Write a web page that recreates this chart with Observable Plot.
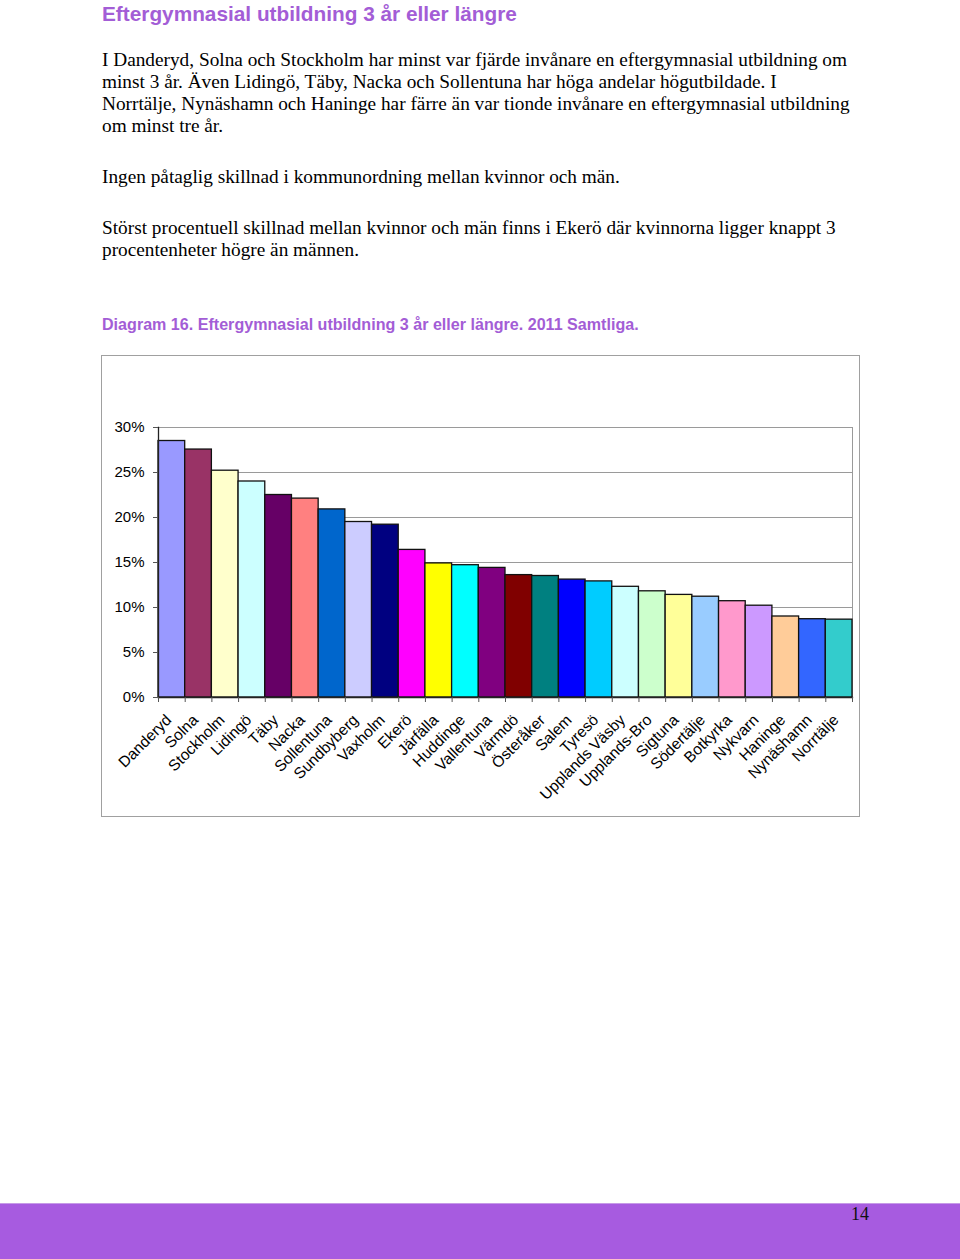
<!DOCTYPE html>
<html>
<head>
<meta charset="utf-8">
<script src="https://cdn.jsdelivr.net/npm/d3@7"></script>
<script src="https://cdn.jsdelivr.net/npm/@observablehq/plot@0.6"></script>
<style>
  html, body { margin: 0; padding: 0; background: #fff; }
  body { width: 960px; height: 1259px; position: relative; overflow: hidden; }
  .title { position: absolute; left: 102px; top: 2px; font-family: "Liberation Sans", Arial, sans-serif; font-weight: bold; font-size: 20.8px; color: #A35DD6; white-space: nowrap; }
  .para { position: absolute; left: 102px; font-family: "Liberation Serif", "Times New Roman", serif; font-size: 19.3px; line-height: 22px; color: #000; white-space: nowrap; }
  .caption { position: absolute; left: 102px; top: 315px; font-family: "Liberation Sans", Arial, sans-serif; font-weight: bold; font-size: 16.1px; color: #A35DD6; white-space: nowrap; }
  #chart { position: absolute; left: 101px; top: 355px; width: 757px; height: 460px; border: 1px solid #a0a0a0; }
  #chart svg { display: block; }
  .footer { position: absolute; left: 0; top: 1203px; width: 960px; height: 56px; background: #A75BE0; border-top: 1px solid #c69ae8; }
  .pagenum { position: absolute; left: 851px; top: 1204px; font-family: "Liberation Serif", "Times New Roman", serif; font-size: 18px; color: #111; }
</style>
</head>
<body>
<div class="title">Eftergymnasial utbildning 3 år eller längre</div>
<div class="para" style="top:49px">I Danderyd, Solna och Stockholm har minst var fjärde invånare en eftergymnasial utbildning om<br>minst 3 år. Även Lidingö, Täby, Nacka och Sollentuna har höga andelar högutbildade. I<br>Norrtälje, Nynäshamn och Haninge har färre än var tionde invånare en eftergymnasial utbildning<br>om minst tre år.</div>
<div class="para" style="top:166px">Ingen påtaglig skillnad i kommunordning mellan kvinnor och män.</div>
<div class="para" style="top:217px">Störst procentuell skillnad mellan kvinnor och män finns i Ekerö där kvinnorna ligger knappt 3<br>procentenheter högre än männen.</div>
<div class="caption">Diagram 16. Eftergymnasial utbildning 3 år eller längre. 2011 Samtliga.</div>
<div id="chart"></div>
<div class="footer"></div>
<div class="pagenum">14</div>
<script>
const kommuner = ["Danderyd","Solna","Stockholm","Lidingö","Täby","Nacka","Sollentuna","Sundbyberg","Vaxholm","Ekerö","Järfälla","Huddinge","Vallentuna","Värmdö","Österåker","Salem","Tyresö","Upplands Väsby","Upplands-Bro","Sigtuna","Södertälje","Botkyrka","Nykvarn","Haninge","Nynäshamn","Norrtälje"];
const andel = [0.285,0.2755,0.252,0.240,0.225,0.221,0.209,0.195,0.192,0.164,0.149,0.147,0.144,0.136,0.135,0.131,0.129,0.123,0.118,0.114,0.112,0.107,0.102,0.090,0.087,0.0865];
const farger = ["#9999FF","#993366","#FFFFCC","#CCFFFF","#660066","#FF8080","#0066CC","#CCCCFF","#000080","#FF00FF","#FFFF00","#00FFFF","#800080","#800000","#008080","#0000FF","#00CCFF","#CCFFFF","#CCFFCC","#FFFF99","#99CCFF","#FF99CC","#CC99FF","#FFCC99","#3366FF","#33CCCC"];
const yTicks = [0,0.05,0.10,0.15,0.20,0.25,0.30];

const data = kommuner.map((k, i) => ({kommun: k, andel: andel[i], farg: farger[i]}));

const W = 757, H = 460;
const mL = 56, mR = 7, mT = 71, mB = 119;
const bw = (W - mL - mR) / kommuner.length;

const chart = Plot.plot({
  width: W,
  height: H,
  marginLeft: mL,
  marginRight: mR,
  marginTop: mT,
  marginBottom: mB,
  style: { fontFamily: "'Liberation Sans', Arial, sans-serif", fontSize: "15px", color: "#000", background: "#fff" },
  x: { domain: kommuner, padding: 0, round: false, label: null },
  y: { domain: [0, 0.30], label: null },
  marks: [
    Plot.gridY(yTicks, { stroke: "#9a9a9a", strokeOpacity: 1, strokeWidth: 1 }),
    Plot.frame({ anchor: "right", stroke: "#9a9a9a" }),
    Plot.barY(data, { x: "kommun", y: "andel", fill: "farg", stroke: "#111", strokeWidth: 1.3 }),
    Plot.frame({ anchor: "left", stroke: "#222", strokeWidth: 1.3 }),
    Plot.frame({ anchor: "bottom", stroke: "#222", strokeWidth: 1.3 }),
    Plot.ruleX(kommuner, { x: d => d, y1: 0, y2: 0, insetBottom: -5, dx: -bw / 2, stroke: "#555" }),
    Plot.ruleX(kommuner.slice(-1), { x: d => d, y1: 0, y2: 0, insetBottom: -5, dx: bw / 2, stroke: "#555" }),
    Plot.axisY(yTicks, { tickFormat: d3.format(".0%"), tickSize: 5, tickPadding: 9, stroke: "#555", fontSize: 15 }),
    Plot.axisX({ tickRotate: -45, tickSize: 0, tickPadding: 20, dx: -3, fontSize: 15.5 })
  ]
});
document.getElementById("chart").appendChild(chart);
</script>
</body>
</html>
